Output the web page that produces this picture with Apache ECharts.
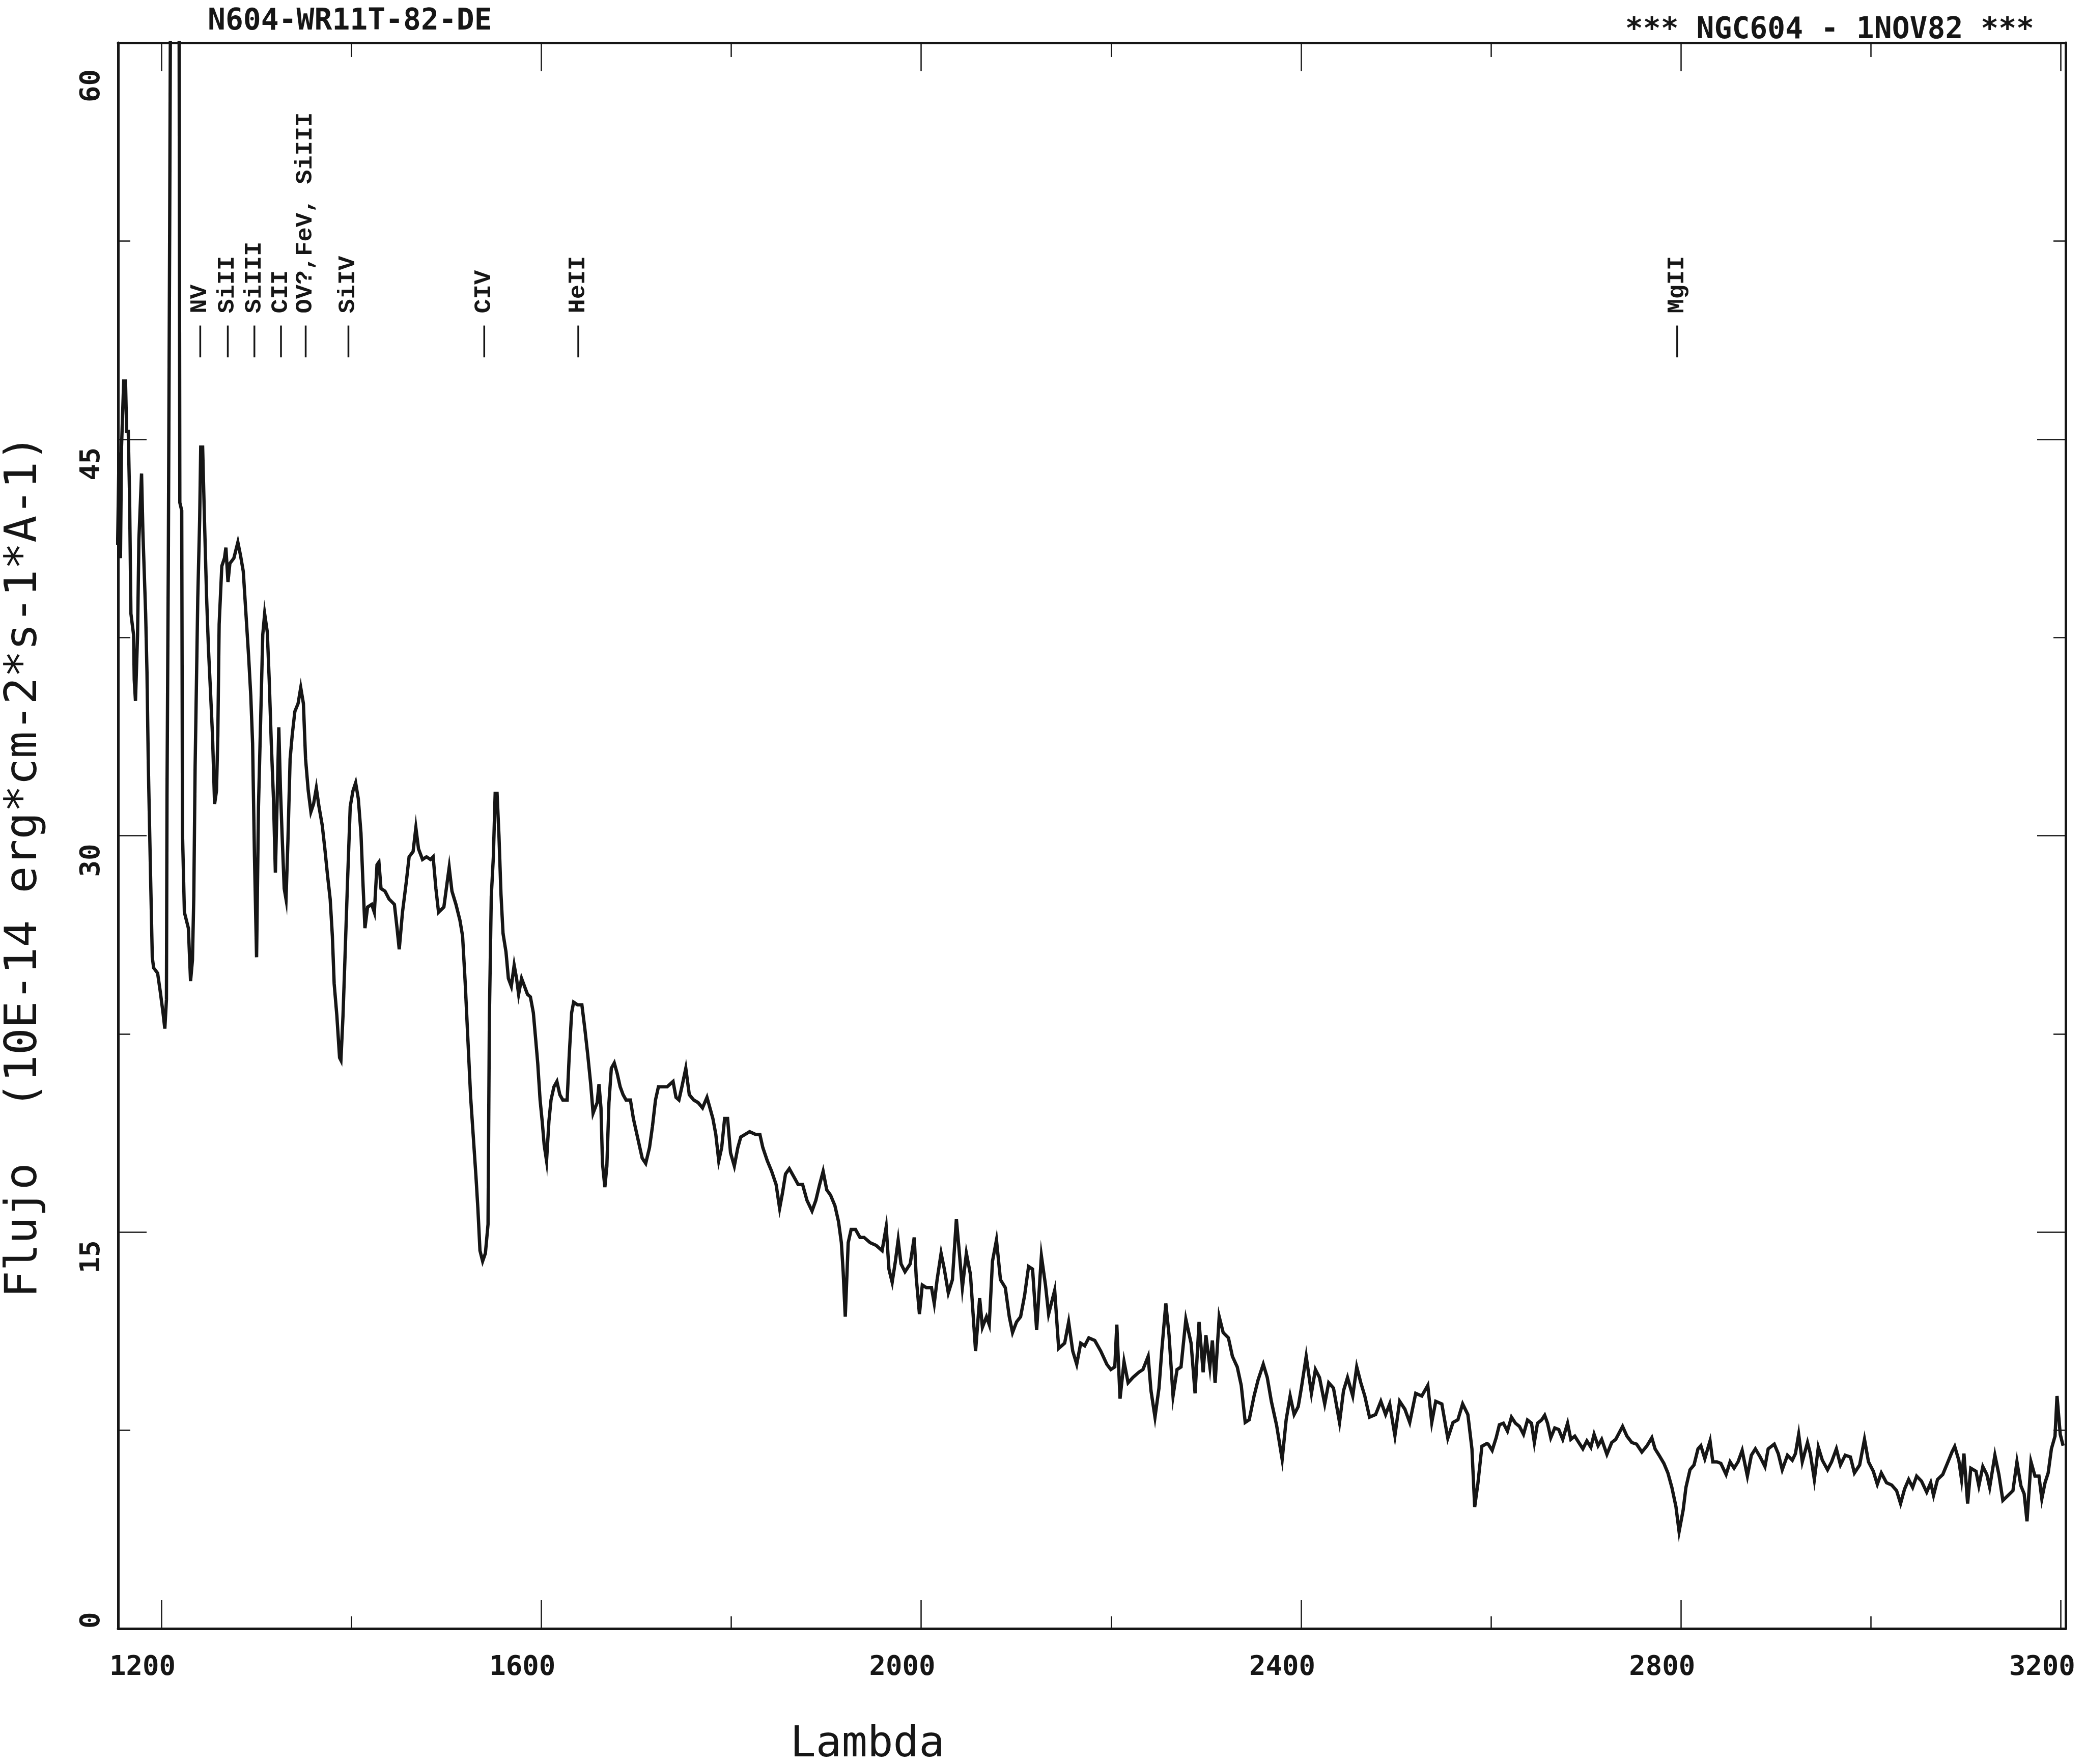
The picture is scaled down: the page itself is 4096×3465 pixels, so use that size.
<!DOCTYPE html>
<html>
<head>
<meta charset="utf-8">
<title>NGC604 - 1NOV82</title>
<script src="https://cdn.jsdelivr.net/npm/echarts@6/dist/echarts.min.js"></script>
<style>
  html, body { margin: 0; padding: 0; background: #fff; }
  #chart { width: 4096px; height: 3465px; }
</style>
</head>
<body>
<div id="chart"></div>
<script>
// espectro IUE de NGC 604: [lambda (A), flujo (1E-14 erg cm-2 s-1 A-1)]
// tramo corto (camara SWP)
const swpSpectrum = [
  [1154.0, 41.0], [1155.5, 44.5], [1157.0, 40.5], [1158.1, 44.7], [1160.4, 47.2], [1162.3, 47.2],
  [1163.5, 45.3], [1165.2, 45.3], [1166.6, 42.8], [1168.0, 38.4], [1170.8, 37.6], [1171.5, 35.9],
  [1172.8, 35.1], [1175.0, 37.6], [1176.4, 41.2], [1179.2, 43.7], [1180.6, 41.5], [1183.5, 38.4],
  [1184.9, 36.2], [1186.3, 32.7], [1188.5, 28.8], [1190.5, 25.4], [1191.9, 25.0], [1196.1, 24.8],
  [1198.9, 24.1], [1201.8, 23.3], [1203.7, 22.7], [1205.4, 23.8], [1206.0, 31.5], [1207.4, 40.5],
  [1208.8, 52.9], [1209.7, 62.0], [1210.5, 95.0], [1218.0, 95.0], [1218.7, 62.0], [1219.5, 42.6],
  [1221.5, 42.3], [1222.3, 30.1], [1224.3, 27.1], [1228.5, 26.5], [1230.8, 24.5], [1232.8, 25.3],
  [1234.2, 27.7], [1235.6, 32.6], [1238.4, 39.0], [1240.4, 42.0], [1241.5, 44.7], [1243.5, 44.7],
  [1245.4, 42.0], [1247.7, 39.0], [1249.6, 37.1], [1251.6, 35.6], [1253.9, 33.8], [1256.1, 31.2],
  [1258.1, 31.7], [1259.5, 33.8], [1260.9, 38.0], [1263.7, 40.2], [1266.5, 40.5], [1268.0, 40.9],
  [1270.2, 39.6], [1272.2, 40.3], [1276.4, 40.5], [1280.6, 41.1], [1283.4, 40.6], [1286.3, 40.0],
  [1289.1, 38.4], [1291.9, 36.8], [1294.2, 35.3], [1296.1, 33.5], [1298.1, 29.2], [1300.3, 25.4],
  [1302.3, 31.1], [1304.6, 34.4], [1306.8, 37.6], [1308.8, 38.4], [1311.6, 37.7], [1313.6, 35.9],
  [1315.8, 33.5], [1318.1, 31.4], [1320.1, 28.6], [1322.0, 31.4], [1323.7, 34.1], [1325.4, 31.8],
  [1327.1, 30.1], [1329.4, 28.0], [1331.3, 27.6], [1333.3, 29.8], [1335.6, 32.9], [1337.8, 33.8],
  [1340.6, 34.7], [1344.0, 35.0], [1346.8, 35.6], [1349.6, 35.0], [1351.9, 32.9], [1354.7, 31.7],
  [1357.5, 30.9], [1360.3, 31.2], [1363.2, 31.8], [1366.0, 31.1], [1369.4, 30.4], [1372.2, 29.5],
  [1375.0, 28.5], [1377.8, 27.6], [1380.1, 26.2], [1382.0, 24.4], [1384.8, 23.2], [1387.7, 21.6],
  [1389.1, 21.5], [1391.3, 23.2], [1393.3, 25.3], [1396.1, 28.3], [1398.9, 31.1], [1401.8, 31.7],
  [1404.6, 32.0], [1407.4, 31.4], [1410.2, 30.1], [1412.2, 28.3], [1414.4, 26.5], [1417.2, 27.3],
  [1421.5, 27.4], [1424.3, 27.1], [1427.1, 28.9], [1429.1, 29.0], [1431.3, 28.0], [1435.5, 27.9],
  [1439.8, 27.6], [1445.4, 27.4], [1448.2, 26.5], [1450.5, 25.7], [1453.9, 27.1], [1458.1, 28.3],
  [1460.9, 29.2], [1465.1, 29.4], [1468.0, 30.3], [1470.8, 29.5], [1475.0, 29.1], [1479.2, 29.2],
  [1483.4, 29.1], [1486.2, 29.2], [1489.1, 28.0], [1491.9, 27.1], [1497.5, 27.3], [1501.2, 28.3],
  [1503.1, 28.8], [1506.0, 27.9], [1510.2, 27.4], [1514.4, 26.8], [1517.2, 26.2], [1520.0, 24.4],
  [1522.9, 22.2], [1525.7, 20.1], [1528.5, 18.6], [1531.3, 17.1], [1533.3, 15.9], [1535.5, 14.3],
  [1538.3, 13.9], [1541.2, 14.2], [1544.0, 15.3], [1545.4, 23.1], [1547.4, 27.7], [1549.6, 29.2],
  [1551.5, 31.6], [1553.5, 31.6], [1555.5, 30.0], [1557.6, 27.8], [1559.8, 26.3], [1562.9, 25.6],
  [1565.4, 24.6], [1568.5, 24.3], [1571.5, 25.1], [1574.0, 24.6], [1576.2, 24.0], [1579.3, 24.6],
  [1582.4, 24.3], [1585.5, 24.0], [1588.6, 23.9], [1591.7, 23.3], [1593.9, 22.4], [1596.3, 21.4],
  [1598.8, 20.0], [1601.0, 19.2], [1603.1, 18.3], [1605.6, 17.7], [1608.1, 19.2], [1610.3, 20.0],
  [1613.4, 20.5], [1616.5, 20.7], [1619.6, 20.2], [1622.7, 20.0], [1627.3, 20.0], [1629.5, 21.7],
  [1632.0, 23.3], [1634.1, 23.7], [1638.2, 23.6], [1642.8, 23.6], [1645.9, 22.7], [1649.0, 21.7],
  [1652.1, 20.6], [1654.6, 19.5], [1656.7, 19.7], [1658.9, 19.9], [1660.8, 20.6], [1662.9, 19.7],
  [1664.5, 17.6], [1667.0, 16.7], [1669.1, 17.5], [1671.3, 19.9], [1673.8, 21.2], [1676.9, 21.4],
  [1680.0, 21.0], [1683.1, 20.5], [1686.2, 20.2], [1689.3, 20.0], [1693.9, 20.0], [1697.0, 19.3],
  [1700.1, 18.8], [1703.2, 18.3], [1706.3, 17.8], [1710.0, 17.6], [1714.0, 18.2], [1717.1, 19.0],
  [1720.3, 20.0], [1723.4, 20.5], [1728.0, 20.5], [1732.6, 20.5], [1738.8, 20.7], [1741.9, 20.1],
  [1745.0, 20.0], [1748.1, 20.5], [1752.2, 21.2], [1755.9, 20.2], [1760.5, 20.0], [1765.2, 19.9],
  [1769.8, 19.7], [1774.5, 20.1], [1777.6, 19.7], [1780.7, 19.3], [1783.8, 18.7], [1786.9, 17.7],
  [1790.0, 18.2], [1793.1, 19.3], [1796.2, 19.3], [1799.3, 18.0], [1803.3, 17.5], [1807.0, 18.2],
  [1810.1, 18.6], [1814.7, 18.7], [1819.4, 18.8], [1825.6, 18.7], [1830.2, 18.7], [1833.3, 18.2],
  [1838.0, 17.7], [1842.6, 17.3], [1847.3, 16.8], [1851.0, 15.9], [1854.1, 16.5], [1857.2, 17.2],
  [1861.2, 17.4], [1865.9, 17.1], [1870.5, 16.8], [1875.2, 16.8], [1879.8, 16.2], [1885.1, 15.8],
  [1889.1, 16.2], [1893.1, 16.8], [1896.8, 17.3], [1900.6, 16.6], [1904.6, 16.4], [1909.2, 16.0],
  [1913.0, 15.4], [1916.0, 14.6], [1917.9, 13.5], [1920.1, 11.8], [1923.2, 14.6], [1926.3, 15.1],
  [1930.9, 15.1], [1935.6, 14.8]
];

// tramo largo (camara LWR)
const lwrSpectrum = [
  [1939.9, 14.8], [1946.3, 14.6], [1952.6, 14.5], [1958.9, 14.3], [1963.2, 15.2], [1966.1, 13.6],
  [1969.5, 13.1], [1972.9, 13.9], [1975.8, 14.7], [1978.8, 13.8], [1983.0, 13.5], [1988.5, 13.8],
  [1992.7, 14.8], [1994.8, 13.3], [1998.2, 11.9], [2001.2, 13.0], [2005.4, 12.9], [2010.9, 12.9],
  [2013.8, 12.3], [2016.8, 13.2], [2021.0, 14.2], [2024.4, 13.6], [2028.6, 12.7], [2032.9, 13.2],
  [2037.1, 15.5], [2040.5, 14.1], [2043.4, 12.9], [2047.6, 14.2], [2051.9, 13.4], [2057.3, 10.5],
  [2061.6, 12.5], [2064.5, 11.4], [2068.8, 11.8], [2071.7, 11.5], [2075.1, 13.9], [2079.3, 14.7],
  [2083.5, 13.2], [2088.6, 12.9], [2092.8, 11.8], [2096.2, 11.2], [2100.4, 11.6], [2104.7, 11.8],
  [2108.9, 12.6], [2113.1, 13.7], [2117.3, 13.6], [2121.6, 11.3], [2126.6, 14.1], [2130.9, 13.0],
  [2134.2, 11.9], [2140.6, 12.8], [2144.8, 10.6], [2151.1, 10.8], [2155.3, 11.6], [2159.6, 10.5],
  [2163.8, 10.0], [2168.0, 10.8], [2172.2, 10.7], [2176.5, 11.0], [2182.8, 10.9], [2189.1, 10.5],
  [2195.5, 10.0], [2199.7, 9.8], [2203.9, 9.9], [2206.0, 11.5], [2209.4, 8.7], [2213.6, 10.1],
  [2217.9, 9.3], [2222.9, 9.5], [2229.3, 9.7], [2233.5, 9.8], [2239.0, 10.3], [2242.0, 9.0],
  [2246.2, 8.0], [2250.4, 9.1], [2253.3, 10.5], [2257.6, 12.3], [2261.0, 11.1], [2265.2, 8.8],
  [2269.4, 9.8], [2273.6, 9.9], [2278.7, 11.7], [2284.2, 10.8], [2288.4, 8.9], [2292.6, 11.6],
  [2296.9, 9.7], [2299.8, 11.1], [2304.0, 9.9], [2306.6, 10.9], [2309.5, 9.3], [2313.8, 11.8],
  [2318.0, 11.2], [2323.5, 11.0], [2327.7, 10.3], [2332.8, 9.9], [2337.0, 9.2], [2341.2, 7.8],
  [2345.4, 7.9], [2350.5, 8.8], [2354.7, 9.4], [2360.2, 10.0], [2364.4, 9.5], [2368.7, 8.6],
  [2374.2, 7.7], [2380.1, 6.4], [2384.3, 7.9], [2388.5, 8.8], [2392.7, 8.1], [2397.0, 8.4],
  [2400.3, 9.1], [2405.4, 10.3], [2410.9, 8.9], [2415.1, 9.8], [2419.4, 9.5], [2424.9, 8.5],
  [2429.1, 9.3], [2434.1, 9.1], [2440.5, 7.8], [2444.7, 9.0], [2448.9, 9.5], [2454.4, 8.8],
  [2458.6, 9.9], [2462.9, 9.3], [2467.1, 8.8], [2472.1, 8.0], [2478.5, 8.1], [2484.0, 8.6],
  [2489.0, 8.1], [2493.3, 8.5], [2498.8, 7.3], [2503.8, 8.6], [2509.3, 8.3], [2514.4, 7.8],
  [2520.7, 8.9], [2527.1, 8.8], [2533.4, 9.2], [2537.6, 7.8], [2541.8, 8.6], [2548.2, 8.5],
  [2554.5, 7.2], [2560.0, 7.8], [2565.1, 7.9], [2570.1, 8.5], [2575.6, 8.1], [2579.9, 6.8],
  [2582.8, 4.6], [2586.2, 5.5], [2590.4, 6.9], [2595.5, 7.0], [2597.0, 6.98], [2601.2, 6.74],
  [2605.4, 7.22], [2608.8, 7.71], [2613.0, 7.77], [2617.3, 7.47], [2621.5, 8.0], [2625.7, 7.77],
  [2629.9, 7.65], [2634.2, 7.35], [2638.4, 7.89], [2642.6, 7.77], [2645.6, 7.04], [2648.9, 7.77],
  [2653.2, 7.89], [2656.5, 8.07], [2659.5, 7.77], [2662.9, 7.22], [2667.1, 7.59], [2671.3, 7.53],
  [2675.5, 7.16], [2680.6, 7.77], [2684.0, 7.16], [2688.2, 7.28], [2692.4, 7.04], [2696.7, 6.80],
  [2700.9, 7.10], [2705.1, 6.86], [2708.5, 7.35], [2712.7, 6.92], [2716.5, 7.16], [2722.0, 6.59],
  [2727.1, 7.04], [2731.3, 7.16], [2738.5, 7.65], [2743.1, 7.28], [2748.2, 7.04], [2753.3, 6.98],
  [2758.8, 6.68], [2764.3, 6.92], [2769.3, 7.22], [2772.7, 6.80], [2776.9, 6.56], [2782.0, 6.25],
  [2786.2, 5.89], [2790.4, 5.34], [2794.7, 4.61], [2798.0, 3.67], [2802.3, 4.49], [2805.2, 5.34],
  [2809.5, 6.01], [2813.7, 6.19], [2817.9, 6.80], [2820.9, 6.92], [2825.1, 6.43], [2830.6, 7.10],
  [2833.5, 6.31], [2837.8, 6.31], [2842.0, 6.25], [2847.5, 5.83], [2851.7, 6.31], [2855.9, 6.07],
  [2860.1, 6.31], [2864.4, 6.74], [2869.9, 5.77], [2874.1, 6.56], [2878.3, 6.80], [2883.4, 6.49],
  [2888.4, 6.13], [2891.8, 6.80], [2898.2, 6.98], [2902.4, 6.62], [2906.6, 6.01], [2912.1, 6.56],
  [2917.2, 6.37], [2920.5, 6.62], [2923.9, 7.35], [2927.7, 6.31], [2933.2, 7.04], [2936.2, 6.62],
  [2940.4, 5.64], [2944.6, 6.86], [2948.8, 6.37], [2954.3, 6.01], [2958.6, 6.31], [2963.6, 6.80],
  [2967.9, 6.19], [2972.9, 6.56], [2978.4, 6.49], [2982.6, 5.89], [2988.1, 6.19], [2993.2, 7.16],
  [2997.4, 6.31], [3002.5, 5.95], [3006.7, 5.46], [3010.9, 5.89], [3016.4, 5.52], [3021.9, 5.43],
  [3027.0, 5.22], [3031.2, 4.73], [3035.4, 5.28], [3039.7, 5.64], [3043.9, 5.34], [3048.1, 5.77],
  [3053.2, 5.58], [3058.7, 5.16], [3062.9, 5.52], [3065.9, 5.04], [3070.1, 5.64], [3075.6, 5.83],
  [3081.1, 6.31], [3085.3, 6.68], [3088.2, 6.89], [3092.5, 6.37], [3095.4, 5.64], [3097.9, 6.62],
  [3101.8, 4.73], [3105.1, 6.07], [3110.6, 5.95], [3113.6, 5.40], [3117.8, 6.13], [3122.0, 5.83],
  [3125.0, 5.34], [3130.5, 6.56], [3134.7, 5.83], [3138.9, 4.85], [3144.4, 5.04], [3149.5, 5.22],
  [3153.7, 6.31], [3157.9, 5.40], [3161.3, 5.10], [3164.3, 4.06], [3168.5, 6.31], [3172.7, 5.77],
  [3176.9, 5.77], [3179.9, 4.91], [3183.3, 5.52], [3186.6, 5.89], [3190.0, 6.80], [3193.8, 7.28],
  [3195.9, 8.80], [3199.3, 7.35], [3202.3, 6.92]
];

// identificacion de lineas
const lineNames = ['NV', 'SiII', 'SiIII', 'CII', 'OV?,FeV, SiIII', 'SiIV', 'CIV', 'HeII', 'MgII'];
const lineLambda = [1241, 1270, 1298, 1326, 1352, 1397, 1540, 1639, 2796];

// marcas de los ejes
const xMajorTicks = [1200, 1600, 2000, 2400, 2800, 3200];
const xMinorTicks = [1400, 1800, 2200, 2600, 3000];
const yMajorTicks = [0, 15, 30, 45, 60];
const yMinorTicks = [7.5, 22.5, 37.5, 52.5];

const INK = '#161616';
const PLOT_FONT = '"DejaVu Sans Mono", monospace';
const X_MIN = 1154.5, X_MAX = 3205;
const Y_MIN = 0, Y_MAX = 60;
const MAJOR_LEN = 56, MINOR_LEN = 24;
// trazo corto de cada identificacion (en unidades de flujo)
const MARK_LOW = 48.1, MARK_HIGH = 49.3;

const frameLine = { show: true, onZero: false, lineStyle: { color: INK, width: 5 } };
const tickText = {
  fontFamily: PLOT_FONT, fontSize: 54, fontWeight: 'bold', color: INK,
  formatter: v => String(v)
};

// todos los ejes comparten escala, cada uno lleva un juego de marcas
function makeAxis(kind, position, ticks, len, extra) {
  return Object.assign({
    type: 'value',
    position: position,
    min: kind === 'x' ? X_MIN : Y_MIN,
    max: kind === 'x' ? X_MAX : Y_MAX,
    axisLine: { show: false, onZero: false },
    axisTick: ticks ? {
      show: true, inside: true, length: len, customValues: ticks,
      lineStyle: { color: INK, width: 2.5 }
    } : { show: false },
    axisLabel: { show: false },
    splitLine: { show: false }
  }, extra || {});
}

function renderLineMark(params, api) {
  const low = api.coord([api.value(0), MARK_LOW]);
  const high = api.coord([api.value(0), MARK_HIGH]);
  return {
    type: 'group',
    children: [
      {
        type: 'line',
        shape: { x1: low[0], y1: low[1], x2: high[0], y2: high[1] },
        style: { stroke: INK, lineWidth: 3.5 }
      },
      {
        type: 'text',
        x: high[0], y: high[1] - 24,
        rotation: Math.PI / 2,
        style: {
          text: lineNames[params.dataIndex],
          fontFamily: '"Liberation Mono", monospace',
          fontSize: 47, fontWeight: 'bold',
          fill: INK, align: 'left', verticalAlign: 'middle'
        }
      }
    ]
  };
}

const chart = echarts.init(document.getElementById('chart'));

const option = {
  backgroundColor: '#ffffff',
  animation: false,
  title: [
    {
      text: 'N604-WR11T-82-DE', left: 408, top: 14, padding: 0,
      textStyle: { fontFamily: PLOT_FONT, fontSize: 58, fontWeight: 'bold', color: INK }
    },
    {
      text: '*** NGC604 - 1NOV82 ***', right: 100, top: 31, padding: 0,
      textStyle: { fontFamily: PLOT_FONT, fontSize: 58, fontWeight: 'bold', color: INK }
    }
  ],
  grid: { left: 232, right: 38, top: 84, bottom: 266, containLabel: false, outerBoundsMode: 'none' },
  xAxis: [
    makeAxis('x', 'bottom', xMajorTicks, MAJOR_LEN, {
      axisLine: frameLine,
      axisLabel: Object.assign({
        show: true, customValues: xMajorTicks, margin: 50, padding: [0, 74, 0, 0]
      }, tickText),
      name: 'Lambda',
      nameLocation: 'middle',
      nameGap: 187,
      nameTextStyle: { fontFamily: PLOT_FONT, fontSize: 84, color: INK, padding: [0, 882, 0, 0] }
    }),
    makeAxis('x', 'bottom', xMinorTicks, MINOR_LEN),
    makeAxis('x', 'top', xMajorTicks, MAJOR_LEN, { axisLine: frameLine }),
    makeAxis('x', 'top', xMinorTicks, MINOR_LEN + 4)
  ],
  yAxis: [
    makeAxis('y', 'left', yMajorTicks, MAJOR_LEN, {
      axisLine: frameLine,
      axisLabel: Object.assign({
        show: true, customValues: [15, 30, 45], rotate: 90, align: 'right', verticalAlign: 'bottom',
        margin: 24, padding: [0, 16, 0, 0]
      }, tickText),
      name: 'Flujo  (10E-14 erg*cm-2*s-1*A-1)',
      nameLocation: 'middle',
      nameRotate: 90,
      nameGap: 140,
      nameTextStyle: { fontFamily: PLOT_FONT, fontSize: 88, color: INK, padding: [0, 120, 0, 0] }
    }),
    makeAxis('y', 'left', yMinorTicks, MINOR_LEN),
    // el 0 queda por encima del eje x
    makeAxis('y', 'left', null, 0, {
      axisLabel: Object.assign({
        show: true, customValues: [0], rotate: 90, align: 'left', verticalAlign: 'bottom', margin: 24
      }, tickText)
    }),
    // el 60 se baja para no tocar el marco
    makeAxis('y', 'left', null, 0, {
      axisLabel: Object.assign({
        show: true, customValues: [60], rotate: 90, align: 'right', verticalAlign: 'bottom',
        margin: 24, padding: [0, 52, 0, 0]
      }, tickText)
    }),
    makeAxis('y', 'right', yMajorTicks, MAJOR_LEN, { axisLine: frameLine }),
    makeAxis('y', 'right', yMinorTicks, MINOR_LEN)
  ],
  series: [
    {
      name: 'NGC604',
      type: 'line',
      xAxisIndex: 0,
      yAxisIndex: 0,
      data: swpSpectrum.concat(lwrSpectrum),
      symbol: 'none',
      clip: true,
      lineStyle: { color: INK, width: 6.5, join: 'miter' },
      z: 3
    },
    {
      name: 'lineas',
      type: 'custom',
      xAxisIndex: 0,
      yAxisIndex: 0,
      data: lineLambda.map(l => [l, MARK_LOW]),
      renderItem: renderLineMark,
      clip: false,
      z: 4
    }
  ]
};

chart.setOption(option);
</script>
</body>
</html>
